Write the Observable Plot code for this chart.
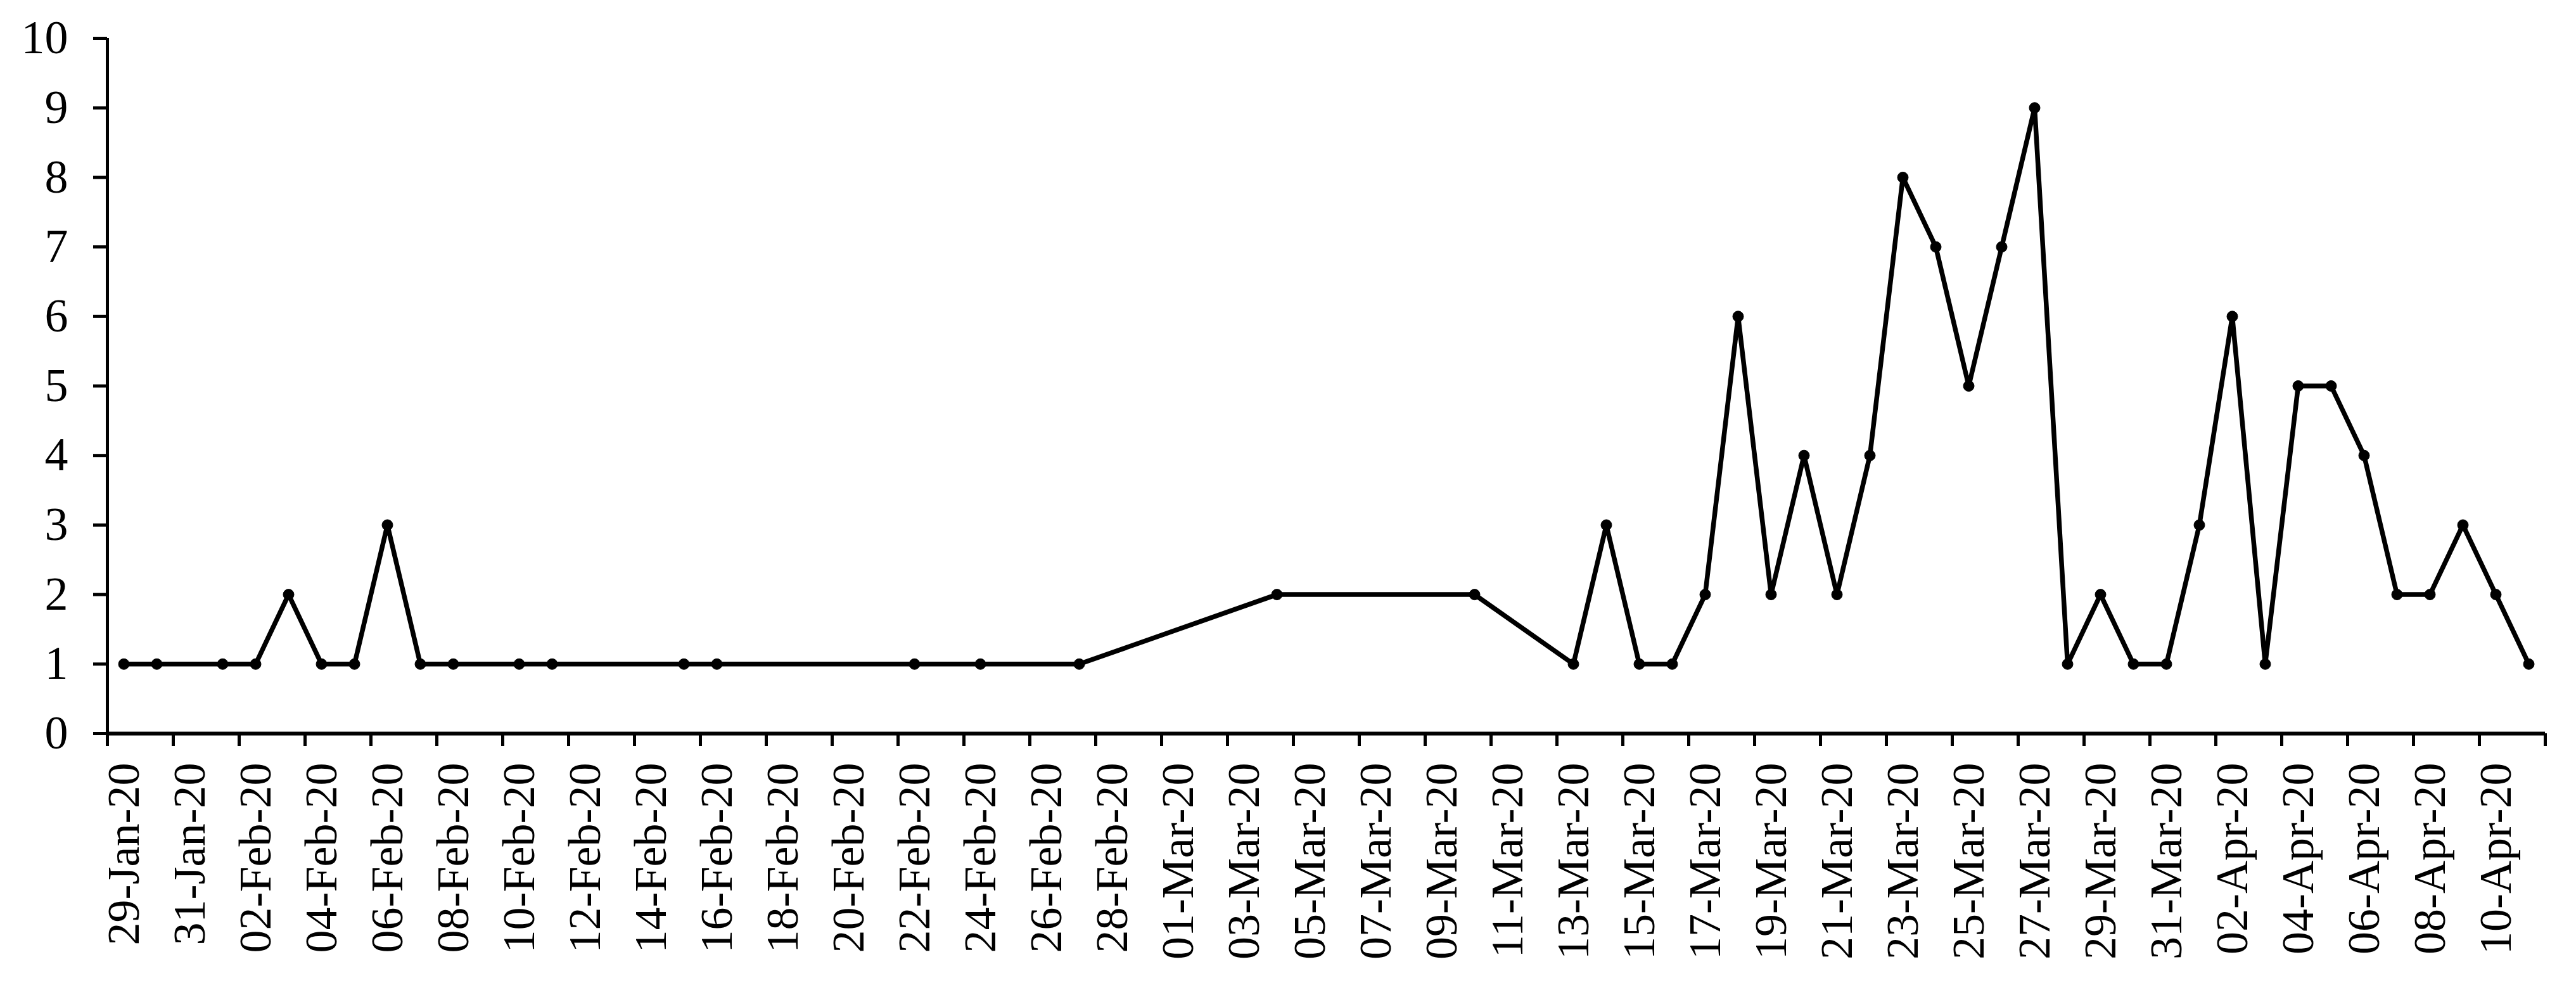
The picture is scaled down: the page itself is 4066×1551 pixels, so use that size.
<!DOCTYPE html>
<html>
<head>
<meta charset="utf-8">
<script src="https://cdn.jsdelivr.net/npm/d3@7"></script>
<script src="https://cdn.jsdelivr.net/npm/@observablehq/plot@0.6"></script>
<style>
  html, body { margin: 0; padding: 0; background: #ffffff; }
  svg { display: block; }
</style>
</head>
<body>
<div id="chart"></div>
<script>
// Daily reported values (dates with a data point)
const dates = [
  "2020-01-29","2020-01-30","2020-02-01","2020-02-02","2020-02-03","2020-02-04","2020-02-05",
  "2020-02-06","2020-02-07","2020-02-08","2020-02-10","2020-02-11","2020-02-15","2020-02-16",
  "2020-02-22","2020-02-24","2020-02-27","2020-03-04","2020-03-10","2020-03-13","2020-03-14",
  "2020-03-15","2020-03-16","2020-03-17","2020-03-18","2020-03-19","2020-03-20","2020-03-21",
  "2020-03-22","2020-03-23","2020-03-24","2020-03-25","2020-03-26","2020-03-27","2020-03-28",
  "2020-03-29","2020-03-30","2020-03-31","2020-04-01","2020-04-02","2020-04-03","2020-04-04",
  "2020-04-05","2020-04-06","2020-04-07","2020-04-08","2020-04-09","2020-04-10","2020-04-11"
];
const values = [
  1,1,1,1,2,1,1,
  3,1,1,1,1,1,1,
  1,1,1,2,2,1,3,
  1,1,2,6,2,4,2,
  4,8,7,5,7,9,1,
  2,1,1,3,6,1,5,
  5,4,2,2,3,2,1
];
const yTicks = [0,1,2,3,4,5,6,7,8,9,10];
const axisStart = "2020-01-29";
const axisEnd = "2020-04-12";

const start = new Date(axisStart + "T00:00:00Z");
const end = new Date(axisEnd + "T00:00:00Z");
const half = 12 * 3600 * 1000;
const data = dates.map((d, i) => ({date: new Date(new Date(d + "T00:00:00Z").getTime() + half), value: values[i]}));
const tickDates = d3.utcDay.range(start, new Date(end.getTime() + 1), 2);
const labelDates = tickDates.slice(0, -1).map(d => new Date(d.getTime() + half));
const fmt = d3.utcFormat("%d-%b-%y");

const chart = Plot.plot({
  width: 4066,
  height: 1551,
  marginLeft: 169,
  marginRight: 49,
  marginTop: 60,
  marginBottom: 394,
  x: {type: "utc", domain: [start, end]},
  y: {domain: [0, 10]},
  style: {fontFamily: "'Liberation Serif', 'Times New Roman', serif", fontSize: "72px", color: "black", background: "white"},
  marks: [
    Plot.axisY({ticks: yTicks, tickSize: 22, tickPadding: 40, strokeWidth: 5, fontSize: 74, label: null}),
    Plot.axisX({ticks: tickDates, tickSize: 20, tickFormat: () => "", strokeWidth: 5, label: null}),
    Plot.axisX({ticks: labelDates, tickSize: 0, tickPadding: 46, tickRotate: -90, tickFormat: fmt, fontSize: 72, label: null}),
    Plot.ruleY([0], {strokeWidth: 6, stroke: "black"}),
    Plot.ruleX([start], {strokeWidth: 5, stroke: "black"}),
    Plot.lineY(data, {x: "date", y: "value", stroke: "black", strokeWidth: 7.5}),
    Plot.dot(data, {x: "date", y: "value", r: 8.5, fill: "black", stroke: "black", strokeWidth: 1})
  ]
});
document.getElementById("chart").appendChild(chart);
</script>
</body>
</html>
